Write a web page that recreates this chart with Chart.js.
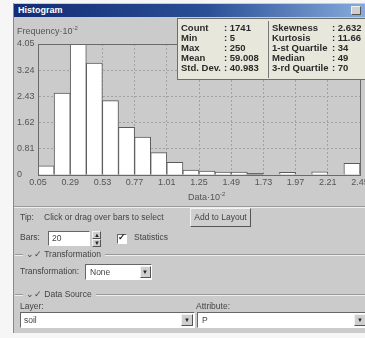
<!DOCTYPE html>
<html>
<head>
<meta charset="utf-8">
<script src="https://cdn.jsdelivr.net/npm/chart.js@4/dist/chart.umd.min.js"></script>
<style>
  html, body { margin: 0; padding: 0; background: #f6f6f6; }
  body { width: 365px; height: 338px; position: relative; overflow: hidden;
         font-family: "Liberation Sans", Arial, sans-serif; color: #333; }
  .abs { position: absolute; white-space: nowrap; }
  #win { left: 13px; top: 3px; width: 360px; height: 330px; background: #cbcbcb;
         border-left: 1px solid #8a8a8a; box-sizing: border-box; }
  #titlebar { left: 14px; top: 4px; width: 351px; height: 13px;
              background: linear-gradient(90deg, #122c74 0%, #2a4f96 55%, #86abdc 100%); }
  #titletext { left: 18px; top: 4px; font: bold 9px "Liberation Sans", Arial, sans-serif; color: #fff; line-height: 13px; }
  #helpbtn { left: 351px; top: 6px; width: 10px; height: 9px; background: #cfcfcf;
             border: 1px solid #eee; border-right-color: #555; border-bottom-color: #555; box-sizing: border-box; }
  #chartbox { left: 14px; top: 17px; width: 351px; height: 190px; }
  .axt { font-size: 9px; color: #555; }
  .axt sup { font-size: 6px; vertical-align: 4px; }
  #stats { left: 177px; top: 18px; width: 195px; height: 62px; background: #e8e7dc;
           border: 1px solid #6d6d6d; box-sizing: border-box; }
  .st { font: bold 9.5px "Liberation Sans", Arial, sans-serif; color: #2a2a2a; line-height: 10px; }
  .sep-v { width: 1px; background: #777; }
  .ui { font-size: 8.5px; color: #444; line-height: 11px; }
  .white { background: #fff; border: 1px solid #fff; border-top-color: #666; border-left-color: #666;
           box-sizing: border-box; }
  .btn { background: #cfcfcf; border: 1px solid #f2f2f2; border-right-color: #555; border-bottom-color: #555;
         box-sizing: border-box; text-align: center; }
  .hline { height: 1px; background: #9a9a9a; border-bottom: 1px solid #eee; }
  .arrow { font-size: 6px; line-height: 6px; color: #222; }
  .group { display: flex; align-items: center; width: 351px; }
  .group .lead { flex: none; width: 8px; margin-right: 3px; }
  .group .rest { flex: 1; margin-left: 4px; }
</style>
</head>
<body>
<div id="win" class="abs"></div>
<div id="titlebar" class="abs"></div>
<div id="titletext" class="abs">Histogram</div>
<div id="helpbtn" class="abs"></div>

<div id="chartbox" class="abs"><canvas id="hist"></canvas></div>

<div class="abs axt" style="left:17px; top:25px;">Frequency·10<sup>-2</sup></div>
<div class="abs axt" style="left:188px; top:191px;">Data·10<sup>-2</sup></div>

<div id="stats" class="abs"></div>
<div class="abs st" style="left:181px; top:23px;">Count<br>Min<br>Max<br>Mean<br>Std. Dev.</div>
<div class="abs st" style="left:224px; top:23px;">: 1741<br>: 5<br>: 250<br>: 59.008<br>: 40.983</div>
<div class="abs sep-v" style="left:268px; top:21px; height:57px;"></div>
<div class="abs st" style="left:272px; top:23px;">Skewness<br>Kurtosis<br>1-st Quartile<br>Median<br>3-rd Quartile</div>
<div class="abs st" style="left:332px; top:23px;">: 2.632<br>: 11.66<br>: 34<br>: 49<br>: 70</div>

<!-- lower panel -->
<div class="abs hline" style="left:14px; top:206px; width:351px;"></div>
<div class="abs ui" style="left:20px; top:212px;">Tip:</div>
<div class="abs ui" style="left:44px; top:212px;">Click or drag over bars to select</div>
<div class="abs btn ui" style="left:190px; top:208px; width:61px; height:19px; line-height:17px;">Add to Layout</div>

<div class="abs ui" style="left:20px; top:232px;">Bars:</div>
<div class="abs white ui" style="left:48px; top:231px; width:42px; height:15px; padding-left:3px; line-height:13px;">20</div>
<div class="abs btn" style="left:92px; top:231px; width:9px; height:8px;"></div>
<div class="abs btn" style="left:92px; top:239px; width:9px; height:8px;"></div>
<div class="abs arrow" style="left:94px; top:232px;">▲</div>
<div class="abs arrow" style="left:94px; top:240px;">▼</div>
<div class="abs white" style="left:117px; top:234px; width:10px; height:10px;"></div>
<div class="abs" style="left:118px; top:232px; font-size:9px; font-weight:bold; color:#222;">✓</div>
<div class="abs ui" style="left:134px; top:232px;">Statistics</div>

<div class="abs group" style="left:15px; top:249px;">
  <div class="hline lead"></div>
  <div class="ui">⌄✓ Transformation</div>
  <div class="hline rest"></div>
</div>
<div class="abs ui" style="left:20px; top:266px;">Transformation:</div>
<div class="abs white ui" style="left:85px; top:264px; width:67px; height:16px; padding-left:4px; line-height:14px;">None</div>
<div class="abs btn" style="left:140px; top:266px; width:11px; height:12px;"></div>
<div class="abs arrow" style="left:142px; top:269px;">▼</div>

<div class="abs group" style="left:15px; top:289px;">
  <div class="hline lead"></div>
  <div class="ui">⌄✓ Data Source</div>
  <div class="hline rest"></div>
</div>
<div class="abs ui" style="left:20px; top:301px;">Layer:</div>
<div class="abs ui" style="left:196px; top:301px;">Attribute:</div>
<div class="abs white ui" style="left:20px; top:312px; width:175px; height:16px; padding-left:3px; line-height:14px;">soil</div>
<div class="abs btn" style="left:181px; top:314px; width:12px; height:12px;"></div>
<div class="abs arrow" style="left:184px; top:317px;">▼</div>
<div class="abs white ui" style="left:197px; top:312px; width:172px; height:16px; padding-left:4px; line-height:14px;">P</div>
<div class="abs btn" style="left:354px; top:314px; width:12px; height:12px;"></div>
<div class="abs arrow" style="left:357px; top:317px;">▼</div>

<script>
// Histogram of attribute P, 20 bars between 5 and 250. Heights in units of 10^-2 (count / 100).
const binCounts = [0.28, 2.53, 4.05, 3.46, 2.30, 1.47, 1.17, 0.69, 0.39, 0.15,
                   0.12, 0.09, 0.09, 0.05, 0, 0.08, 0, 0.10, 0, 0.36];
const selectedBins = [13];
const xTickPos = [0, 2, 4, 6, 8, 10, 12, 14, 16, 18, 20];
const xTickLabels = ["0.05", "0.29", "0.53", "0.77", "1.01", "1.25", "1.49", "1.73", "1.97", "2.21", "2.45"];
const yTickValues = [0, 0.81, 1.62, 2.43, 3.24, 4.05];
const yTickLabels = ["0", "0.81", "1.62", "2.43", "3.24", "4.05"];

const GRID = "#a2a2a2";
const TICK_FONT = { family: "Liberation Sans, Arial, sans-serif", size: 9 };

// plot frame on top of bars/grid
const framePlugin = {
  id: "frame",
  afterDraw(chart) {
    const { ctx, chartArea: a } = chart;
    ctx.save();
    ctx.strokeStyle = "#6a6a6a";
    ctx.lineWidth = 1;
    ctx.strokeRect(Math.round(a.left) + 0.5, Math.round(a.top) + 0.5,
                   Math.round(a.right - a.left), Math.round(a.bottom - a.top));
    ctx.restore();
  },
};

new Chart(document.getElementById("hist").getContext("2d"), {
  type: "bar",
  data: {
    datasets: [{
      data: binCounts.map((v, i) => ({ x: i + 0.5, y: v })),
      backgroundColor: binCounts.map((_, i) => selectedBins.includes(i) ? "#7a7a7a" : "#ffffff"),
      borderColor: "#5a5a5a",
      borderWidth: 1,
      barPercentage: 1,
      categoryPercentage: 1,
    }],
  },
  plugins: [framePlugin],
  options: {
    responsive: true,
    maintainAspectRatio: false,
    animation: false,
    layout: { padding: { left: 3, right: 5, top: 27, bottom: 0 } },
    plugins: { legend: { display: false }, tooltip: { enabled: false } },
    scales: {
      x: {
        type: "linear",
        offset: false,
        min: 0,
        max: 20,
        afterBuildTicks: (s) => { s.ticks = xTickPos.map((v) => ({ value: v })); },
        afterFit: (s) => { s.height = 32; s.paddingLeft = 0; s.paddingRight = 0; },
        ticks: {
          callback: (v, i) => xTickLabels[i],
          font: TICK_FONT, color: "#555", padding: 2,
          maxRotation: 0, minRotation: 0, autoSkip: false,
        },
        grid: { color: GRID, drawTicks: false, offset: false },
        border: { color: "#6a6a6a", dash: [2, 2] },
      },
      y: {
        min: 0,
        max: 4.05,
        afterBuildTicks: (s) => { s.ticks = yTickValues.map((v) => ({ value: v })); },
        afterFit: (s) => { s.width = 21; s.paddingTop = 0; s.paddingBottom = 0; },
        ticks: {
          callback: (v, i) => yTickLabels[i],
          font: TICK_FONT, color: "#555", crossAlign: "far", padding: 2,
        },
        grid: { color: GRID, drawTicks: false },
        border: { color: "#6a6a6a", dash: [2, 2] },
      },
    },
  },
});
</script>
</body>
</html>
